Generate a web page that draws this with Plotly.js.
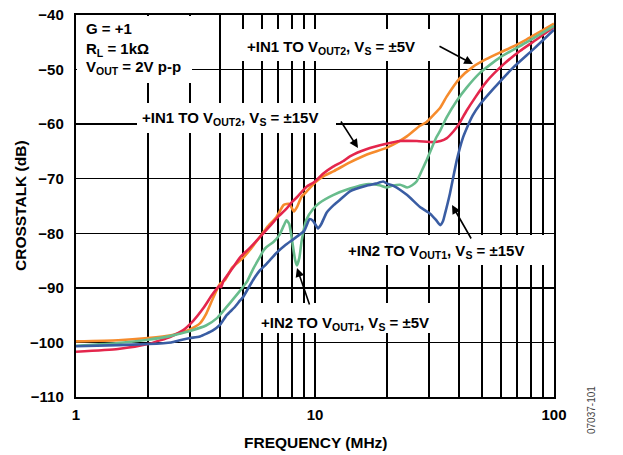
<!DOCTYPE html>
<html>
<head>
<meta charset="utf-8">
<script src="https://cdn.plot.ly/plotly-3.0.1.min.js"></script>
<style>html,body{margin:0;padding:0;background:#fff;}#chart{width:623px;height:455px;}</style>
</head>
<body>
<div id="chart"></div>
<script>
// ---- Data (frequency in MHz, crosstalk in dB) ----
const freqOrange = [1, 1.5, 2, 2.5, 2.8, 3.0, 3.3, 3.5, 3.75, 4.0, 4.2, 4.5, 5.0, 5.35, 5.8, 6.3, 6.9, 7.4, 7.8, 8.17, 8.45, 8.78, 9.2, 10, 11, 12, 14, 16.4, 20, 22, 24.3, 27.5, 29.3, 31.2, 33.4, 35.5, 40.3, 45.8, 52, 59.3, 68, 76.7, 88, 100];
const dbOrange   = [-99.8, -99.6, -99.2, -98.7, -98.1, -97.6, -96.5, -94.8, -91.8, -89.3, -88.6, -86.3, -84.5, -83.0, -81.0, -78.9, -77.0, -74.8, -74.6, -76.0, -75.0, -73.3, -72.4, -70.7, -69.4, -68.6, -67.0, -65.6, -64.3, -63.4, -62.2, -60.3, -59.6, -58.4, -57.0, -55.0, -51.6, -49.5, -48.1, -46.9, -45.7, -44.5, -43.0, -41.6];

const freqRed = [1, 1.5, 2.0, 2.5, 2.8, 3.1, 3.4, 3.75, 4.0, 4.05, 4.13, 4.5, 4.86, 5.3, 5.88, 6.5, 7.0, 7.6, 8.0, 8.4, 8.8, 9.2, 10, 10.8, 11.9, 13.1, 14, 16.4, 19.9, 22.7, 26.7, 31.2, 33.5, 35.5, 38, 40, 43, 47, 52.2, 61.3, 72, 84.5, 100];
const dbRed   = [-101.7, -101.2, -100.3, -98.9, -97.8, -96.0, -93.8, -91.0, -89.6, -89.9, -88.8, -86.5, -84.4, -82.8, -80.7, -78.6, -77.0, -75.5, -74.3, -73.4, -72.4, -71.5, -70.5, -69.1, -67.8, -66.8, -65.9, -64.6, -63.6, -63.1, -63.1, -63.3, -63.1, -62.6, -61.3, -60.0, -57.6, -55.0, -52.2, -49.1, -46.6, -44.5, -42.2];

const freqGreen = [1, 1.5, 2.0, 2.5, 2.72, 3.0, 3.5, 3.9, 4.27, 4.6, 4.86, 5.2, 5.5, 5.8, 6.1, 6.27, 6.7, 7.1, 7.4, 7.6, 7.8, 8.0, 8.25, 8.4, 8.6, 8.8, 9.2, 9.8, 10.4, 11.9, 14, 16.4, 18.6, 19.9, 21, 22.7, 24.3, 25.5, 26.7, 28, 29.3, 30.7, 32.2, 33.4, 35.5, 39.2, 43.1, 49, 59.3, 76.7, 100];
const dbGreen   = [-100.6, -100.1, -99.5, -98.8, -98.4, -97.9, -96.9, -95.5, -93.5, -91.8, -90.5, -88.8, -86.6, -84.8, -83.1, -82.5, -81.6, -80.3, -78.6, -77.6, -78.3, -81.0, -84.8, -85.9, -84.5, -81.3, -77.5, -75.6, -74.5, -73.0, -71.8, -71.0, -71.2, -71.6, -71.3, -71.1, -71.6, -71.2, -70.4, -68.5, -66.6, -64.5, -62.4, -61.2, -58.8, -55.7, -53.3, -50.6, -47.8, -45.0, -42.0];

const freqBlue = [1, 1.5, 2.0, 2.5, 2.72, 3.0, 3.3, 3.74, 4.0, 4.27, 4.6, 4.86, 5.0, 5.5, 5.88, 6.27, 6.9, 7.5, 8.0, 8.65, 9.0, 9.5, 9.8, 10.3, 10.6, 11.2, 12, 12.7, 14, 16.4, 18, 19.3, 20, 21.3, 24.3, 27.5, 30.3, 32, 33.4, 34.3, 35, 36.7, 39.2, 41.5, 43.1, 45.7, 49, 55.6, 67.6, 81.9, 100];
const dbBlue   = [-100.7, -100.5, -100.3, -100.0, -99.6, -99.2, -98.9, -97.8, -96.8, -95.0, -93.6, -92.3, -91.7, -88.6, -86.8, -85.6, -83.6, -82.2, -81.3, -80.2, -79.6, -77.4, -77.7, -79.1, -78.4, -76.2, -74.8, -73.9, -72.3, -71.3, -70.9, -70.5, -70.9, -71.3, -73.0, -75.2, -76.4, -77.5, -78.5, -77.8, -76.4, -72.7, -66.6, -62.6, -60.8, -58.4, -56.4, -53.6, -49.6, -46.3, -42.7];

const xTickVals = [1, 10, 100];
const xTickText = ['1', '10', '100'];
const yTickVals = [-110, -100, -90, -80, -70, -60, -50, -40];

// ---- Layout geometry helpers (pixel -> paper) ----
const L=76, R=554, T=15, B=397;
const px = x => (x - L) / (R - L);
const py = y => (B - y) / (B - T);

const FONT = 'Liberation Sans, Arial, Helvetica, sans-serif';
const bold = (s) => ({family: FONT, size: s, color: '#000', weight: 'bold'});

const traces = [
  {x: freqOrange, y: dbOrange, color: '#F68B2C'},
  {x: freqRed, y: dbRed, color: '#E4264C'},
  {x: freqGreen, y: dbGreen, color: '#68BC8C'},
  {x: freqBlue, y: dbBlue, color: '#3A5DA3'}
].map(t => ({
  x: t.x, y: t.y, type: 'scatter', mode: 'lines',
  line: {color: t.color, width: 2.6, shape: 'spline', smoothing: 0.5},
  hoverinfo: 'skip', showlegend: false
}));

const whiteBox = (x0, x1, y0, y1) => ({
  type: 'rect', xref: 'paper', yref: 'paper', layer: 'above',
  x0: px(x0), x1: px(x1), y0: py(y1), y1: py(y0),
  fillcolor: '#fff', line: {width: 0}
});

const shapes = [
  whiteBox(77, 192, 16, 83),
  whiteBox(240, 436, 29, 61),
  whiteBox(137, 336, 103, 133),
  whiteBox(343, 548, 235, 265),
  whiteBox(253, 448, 303, 333)
];

const label = (text, x, y, size) => ({
  text: text, xref: 'paper', yref: 'paper', x: px(x), y: py(y),
  xanchor: 'left', yanchor: 'middle', showarrow: false,
  font: bold(size || 15), align: 'left'
});

const arrow = (tipX, tipY, tailX, tailY) => ({
  text: '', xref: 'paper', yref: 'paper', x: px(tipX), y: py(tipY),
  ax: tailX - tipX, ay: tailY - tipY, axref: 'pixel', ayref: 'pixel',
  showarrow: true, arrowhead: 2, arrowsize: 1.1, arrowwidth: 1.6,
  arrowcolor: '#000', standoff: 0
});

const annotations = [
  label('G = +1', 84, 29),
  label('R<sub>L</sub> = 1kΩ', 84, 49),
  label('V<sub>OUT</sub> = 2V p-p', 84, 67),
  label('+IN1 TO V<sub>OUT2</sub>, V<sub>S</sub> = ±5V', 245, 47.5),
  label('+IN1 TO V<sub>OUT2</sub>, V<sub>S</sub> = ±15V', 140, 119),
  label('+IN2 TO V<sub>OUT1</sub>, V<sub>S</sub> = ±15V', 346, 251),
  label('+IN2 TO V<sub>OUT1</sub>, V<sub>S</sub> = ±5V', 259, 323.5),
  arrow(473, 64, 438, 45.5),
  arrow(358, 148, 340, 120),
  arrow(452, 205, 472, 240),
  arrow(297, 268, 310, 306),
  {text: 'CROSSTALK (dB)', xref: 'paper', yref: 'paper', x: px(20), y: py(206),
   xanchor: 'center', yanchor: 'middle', textangle: -90, showarrow: false, font: bold(15.5)},
  {text: 'FREQUENCY (MHz)', xref: 'paper', yref: 'paper', x: px(315.5), y: py(442),
   xanchor: 'center', yanchor: 'middle', showarrow: false, font: bold(15.5)},
  {text: '07037-101', xref: 'paper', yref: 'paper', x: px(591), y: py(410),
   xanchor: 'center', yanchor: 'middle', textangle: -90, showarrow: false,
   font: {family: FONT, size: 10, color: '#444'}}
];

const layout = {
  width: 623, height: 455,
  margin: {l: L, r: 623 - R, t: T, b: 455 - B, pad: 0},
  paper_bgcolor: '#fff', plot_bgcolor: '#fff',
  showlegend: false,
  xaxis: {
    type: 'log', range: [0, 2], tickmode: 'array', tickvals: xTickVals, ticktext: xTickText,
    showgrid: true, gridcolor: '#000', gridwidth: 1.4, zeroline: false,
    minor: {dtick: 'D1', showgrid: true, gridcolor: '#000', gridwidth: 1.4, ticks: ''},
    showline: true, linecolor: '#000', linewidth: 2.2, mirror: true,
    ticks: '', ticklabelstandoff: 3, tickfont: bold(15), fixedrange: true
  },
  yaxis: {
    range: [-110, -40], tickmode: 'array', tickvals: yTickVals,
    showgrid: true, gridcolor: '#000', gridwidth: 1.4, zeroline: false,
    showline: true, linecolor: '#000', linewidth: 2.2, mirror: true,
    ticks: '', ticklabelstandoff: 7, tickfont: bold(15), fixedrange: true
  },
  shapes: shapes,
  annotations: annotations
};

Plotly.newPlot('chart', traces, layout, {staticPlot: true, displayModeBar: false});
</script>
</body>
</html>
